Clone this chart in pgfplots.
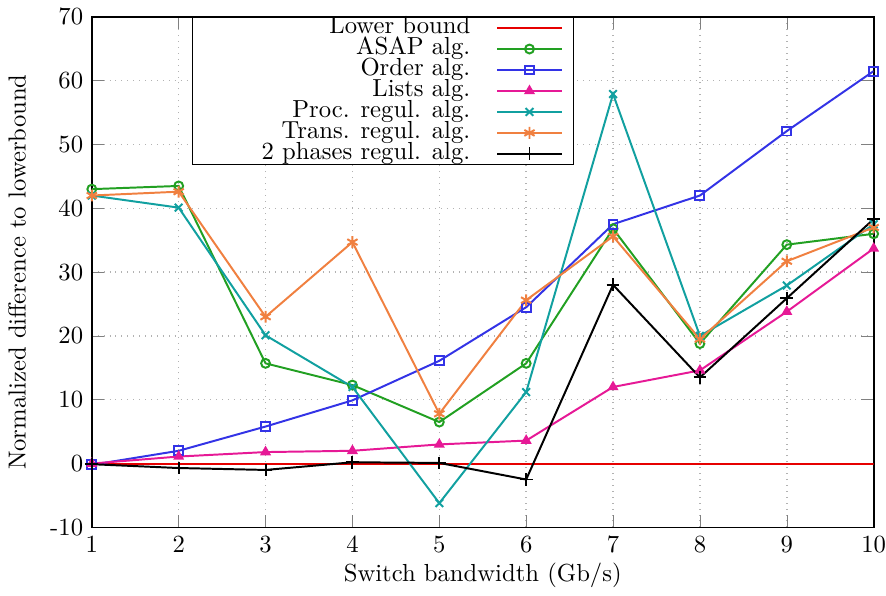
\documentclass[border=0pt]{standalone}
\usepackage{pgfplots}
\pgfplotsset{compat=1.18}
\definecolor{cLB}{RGB}{230,0,0}
\definecolor{cASAP}{RGB}{34,160,34}
\definecolor{cOrd}{RGB}{51,51,230}
\definecolor{cList}{RGB}{230,25,150}
\definecolor{cProc}{RGB}{17,160,160}
\definecolor{cTrans}{RGB}{240,128,64}
\begin{document}
\begin{tikzpicture}
\begin{axis}[
  scale only axis,
  width=317pt, height=207pt,
  xmin=1, xmax=10, ymin=-10, ymax=70,
  xtick={1,...,10},
  ytick={-10,0,10,20,30,40,50,60,70},
  yticklabels={{-10},{0},{10},{20},{30},{40},{50},{60},{70}},
  /pgf/number format/assume math mode=true,
  xticklabel style={inner xsep=0pt},
  tick align=inside,
  major tick length=5pt,
  grid=major,
  major grid style={gray!60, dotted, line width=0.6pt},
  axis line style={line width=0.7pt},
  xlabel={Switch bandwidth (Gb/s)},
  ylabel={Normalized difference to lowerbound},
  xlabel style={yshift=3pt},
  ylabel style={yshift=3pt},
  every axis plot/.append style={line width=0.8pt, mark size=1.8pt},
  legend cell align=right,
  legend plot pos=right,
  legend style={at={(0.128,1)}, anchor=north west, draw=black, line width=0.6pt,
    inner xsep=0pt, inner ysep=0pt, row sep=0pt, column sep=0pt, fill=white,
    nodes={text height=6.6pt, text depth=1.9pt, inner ysep=0pt, inner xsep=0pt}},
  legend image code/.code={
    \path (0pt,0pt) (41.1pt,0pt);
    \draw[mark repeat=2,mark phase=2] plot coordinates {(10.6pt,0pt) (23.6pt,0pt) (36.6pt,0pt)};
  },
]
\addplot[cLB, mark=none] coordinates {(1,0)(2,0)(3,0)(4,0)(5,0)(6,0)(7,0)(8,0)(9,0)(10,0)};
\addlegendentry{Lower bound}
\addplot[cASAP, mark=o] coordinates {(1,43.0)(2,43.5)(3,15.7)(4,12.3)(5,6.5)(6,15.7)(7,36.8)(8,18.8)(9,34.3)(10,36.0)};
\addlegendentry{ASAP alg.}
\addplot[cOrd, mark=square] coordinates {(1,-0.2)(2,2.0)(3,5.8)(4,9.9)(5,16.1)(6,24.5)(7,37.5)(8,42.0)(9,52.1)(10,61.5)};
\addlegendentry{Order alg.}
\addplot[cList, mark=triangle*] coordinates {(1,0.0)(2,1.1)(3,1.8)(4,2.0)(5,3.0)(6,3.6)(7,12.0)(8,14.6)(9,23.8)(10,33.7)};
\addlegendentry{Lists alg.}
\addplot[cProc, mark=x, mark size=2.2pt] coordinates {(1,42.0)(2,40.1)(3,20.1)(4,12.0)(5,-6.2)(6,11.2)(7,57.9)(8,20.0)(9,27.9)(10,37.5)};
\addlegendentry{Proc. regul. alg.}
\addplot[cTrans, mark=asterisk, mark size=2.4pt] coordinates {(1,42.0)(2,42.6)(3,23.0)(4,34.7)(5,7.8)(6,25.6)(7,35.6)(8,19.5)(9,31.7)(10,37.0)};
\addlegendentry{Trans. regul. alg.}
\addplot[black, mark=+, mark size=2.6pt] coordinates {(1,-0.1)(2,-0.7)(3,-1.0)(4,0.2)(5,0.1)(6,-2.5)(7,28.0)(8,13.5)(9,25.9)(10,38.3)};
\addlegendentry{\hspace*{28pt}2 phases regul. alg.}
\end{axis}
\end{tikzpicture}
\end{document}
